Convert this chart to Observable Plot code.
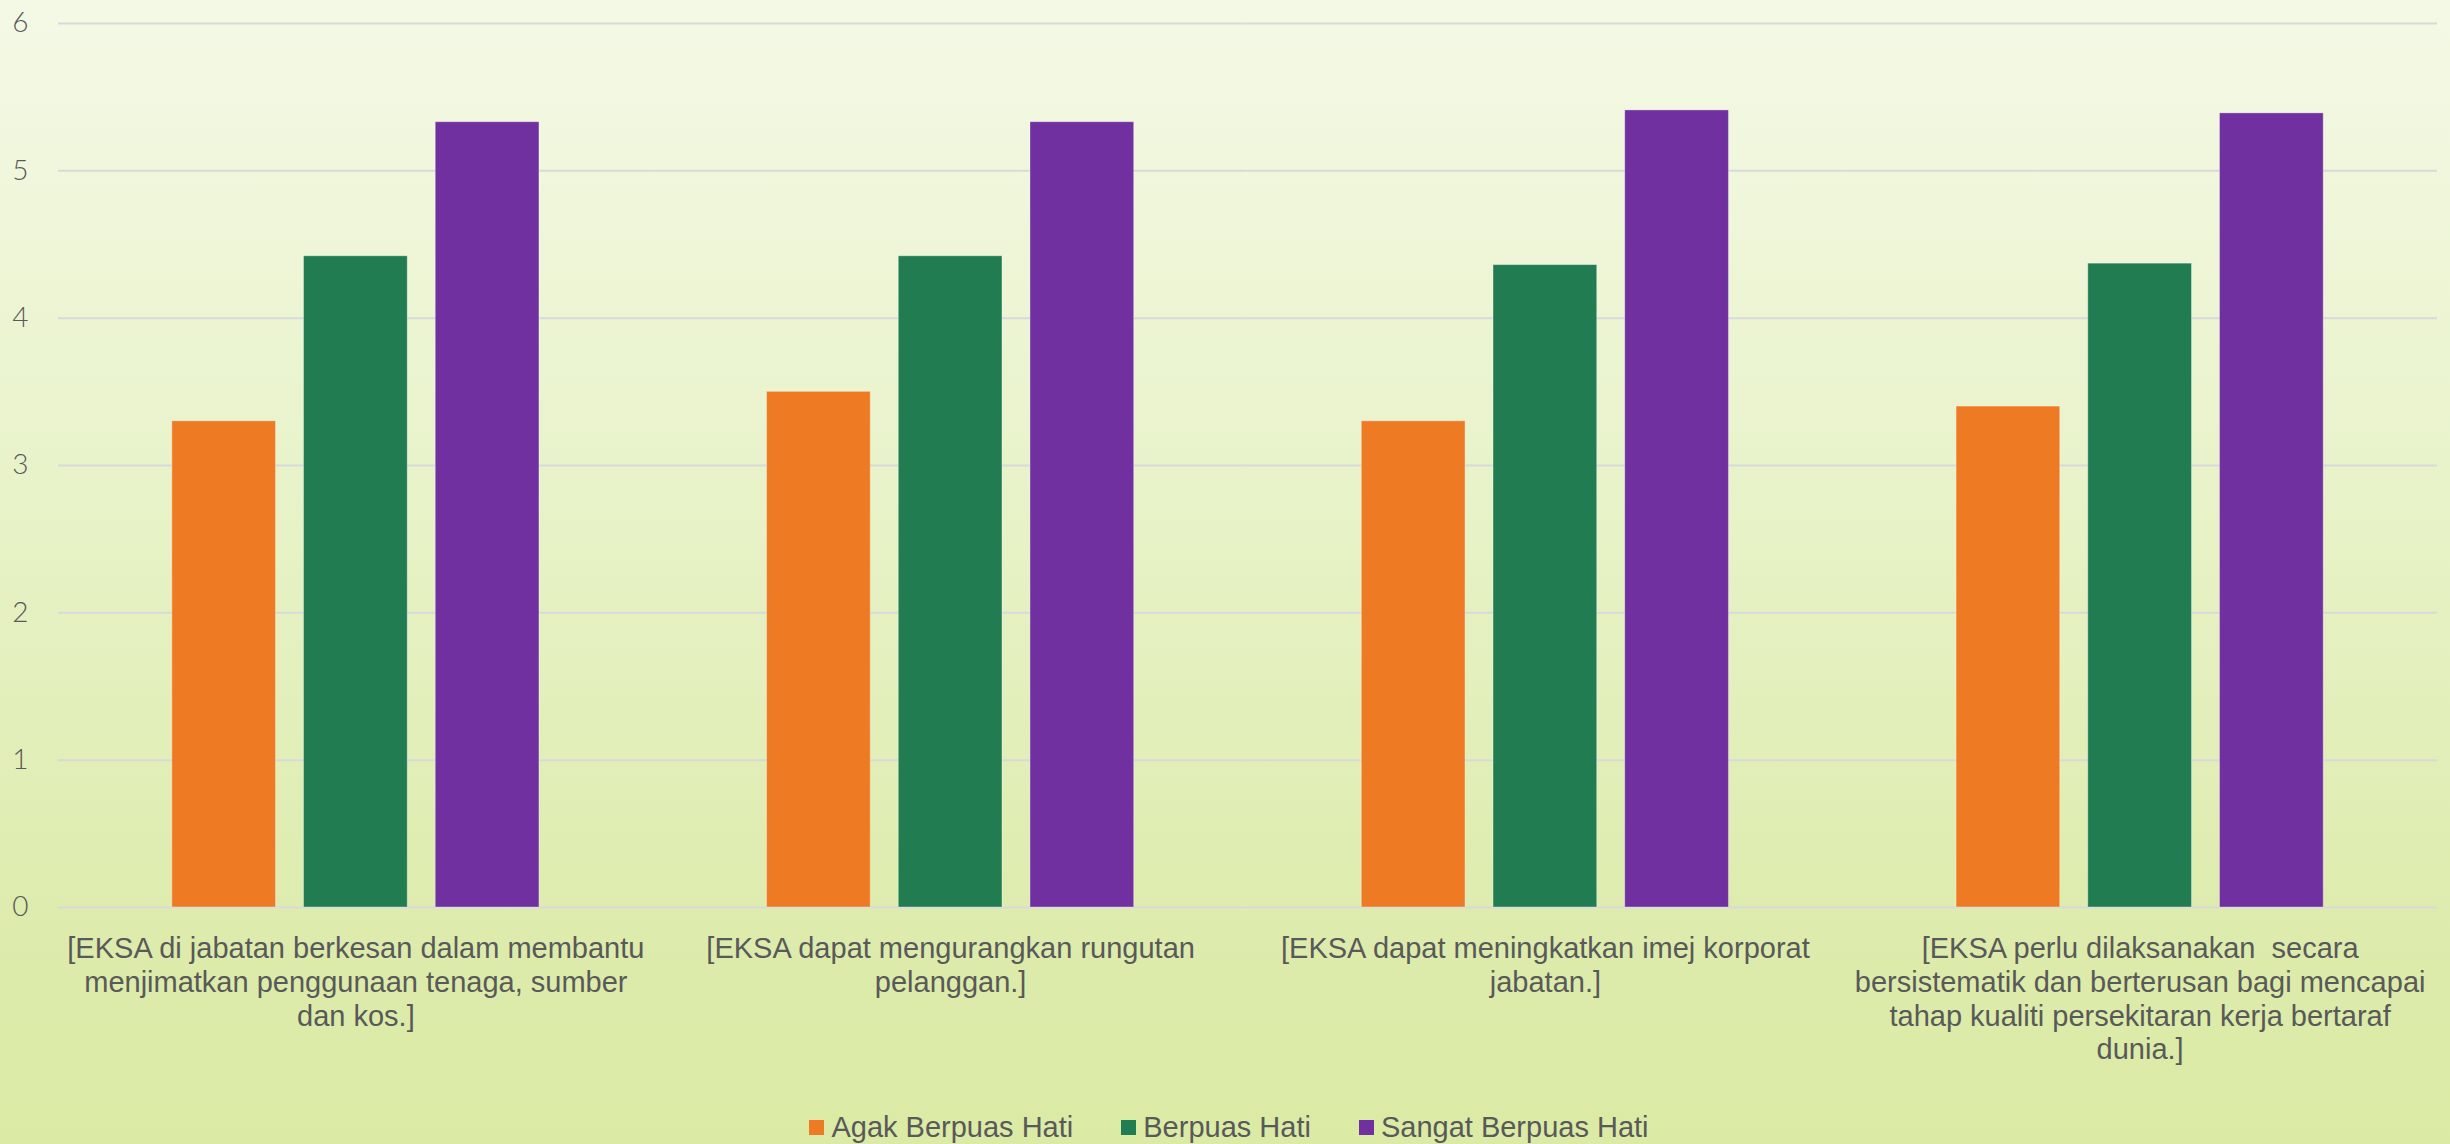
<!DOCTYPE html>
<html>
<head>
<meta charset="utf-8">
<script src="https://cdn.jsdelivr.net/npm/d3@7"></script>
<script src="https://cdn.jsdelivr.net/npm/@observablehq/plot@0.6"></script>
<style>
  html, body { margin: 0; padding: 0; overflow: hidden; }
  #wrap {
    position: relative; width: 2450px; height: 1144px;
    background: linear-gradient(to bottom, #f4f9e6 0%, #e9f3cb 40%, #dcebaa 85%, #dbeba5 100%);
  }
  #chart svg { display: block; background: transparent; }
  #legend {
    position: absolute; left: 0; top: 1108px; width: 2450px; height: 38px;
    display: flex; justify-content: center; align-items: center; gap: 48px;
    font-family: "Liberation Sans", Arial, sans-serif; font-size: 29px; color: #595959;
    padding-left: 8px; box-sizing: border-box;
  }
  .item { display: flex; align-items: center; gap: 7px; }
  .sw { width: 15px; height: 15px; display: inline-block; }
</style>
</head>
<body>
<div id="wrap">
  <div id="chart"></div>
  <div id="legend"></div>
</div>
<script>
const categories = [
  "[EKSA di jabatan berkesan dalam membantu\nmenjimatkan penggunaan tenaga, sumber\ndan kos.]",
  "[EKSA dapat mengurangkan rungutan\npelanggan.]",
  "[EKSA dapat meningkatkan imej korporat\njabatan.]",
  "[EKSA perlu dilaksanakan  secara\nbersistematik dan berterusan bagi mencapai\ntahap kualiti persekitaran kerja bertaraf\ndunia.]"
];
const seriesNames = ["Agak Berpuas Hati", "Berpuas Hati", "Sangat Berpuas Hati"];
const agakBerpuasHati = [3.3, 3.5, 3.3, 3.4];
const berpuasHati = [4.42, 4.42, 4.36, 4.37];
const sangatBerpuasHati = [5.33, 5.33, 5.41, 5.39];
const yTicks = [0, 1, 2, 3, 4, 5, 6];
const seriesColors = ["#EE7B24", "#217C52", "#7030A0"];

const seriesValues = [agakBerpuasHati, berpuasHati, sangatBerpuasHati];
const data = [];
categories.forEach((c, i) => {
  seriesNames.forEach((s, j) => data.push({category: c, series: s, value: seriesValues[j][i]}));
});

const plot = Plot.plot({
  width: 2450,
  height: 1100,
  marginLeft: 58,
  marginRight: 13,
  marginTop: 23,
  marginBottom: 193,
  style: {background: "transparent", fontFamily: "'Liberation Sans', Arial, sans-serif"},
  fx: {domain: categories, padding: 0, round: false, axis: null},
  x: {domain: seriesNames, paddingInner: 0.2126, paddingOuter: 0.864, round: false, axis: null},
  y: {domain: [0, 6], axis: null},
  color: {domain: seriesNames, range: seriesColors},
  marks: [
    Plot.gridY(yTicks, {stroke: "#d9d9d9", strokeOpacity: 1, strokeWidth: 2}),
    Plot.barY(data, {fx: "category", x: "series", y: "value", fill: "series", inset: 0,
      stroke: "white", strokeOpacity: 0.35, strokeWidth: 1}),
    Plot.axisY({ticks: yTicks, tickFormat: d => String(d), tickSize: 0, tickPadding: 30, fontSize: 28,
      fontFamily: "Lato, 'Open Sans', sans-serif", fontWeight: 300, fill: "#595959", label: null}),
    Plot.axisFx({anchor: "bottom", tickSize: 0, tickPadding: 27, fontSize: 29, lineHeight: 1.16,
      fill: "#595959", label: null, fontFamily: "'Liberation Sans', Arial, sans-serif"})
  ]
});
document.getElementById("chart").appendChild(plot);

const legend = document.getElementById("legend");
seriesNames.forEach((s, i) => {
  const item = document.createElement("div");
  item.className = "item";
  const sw = document.createElement("span");
  sw.className = "sw";
  sw.style.background = seriesColors[i];
  const t = document.createElement("span");
  t.textContent = s;
  item.appendChild(sw);
  item.appendChild(t);
  legend.appendChild(item);
});
</script>
</body>
</html>
